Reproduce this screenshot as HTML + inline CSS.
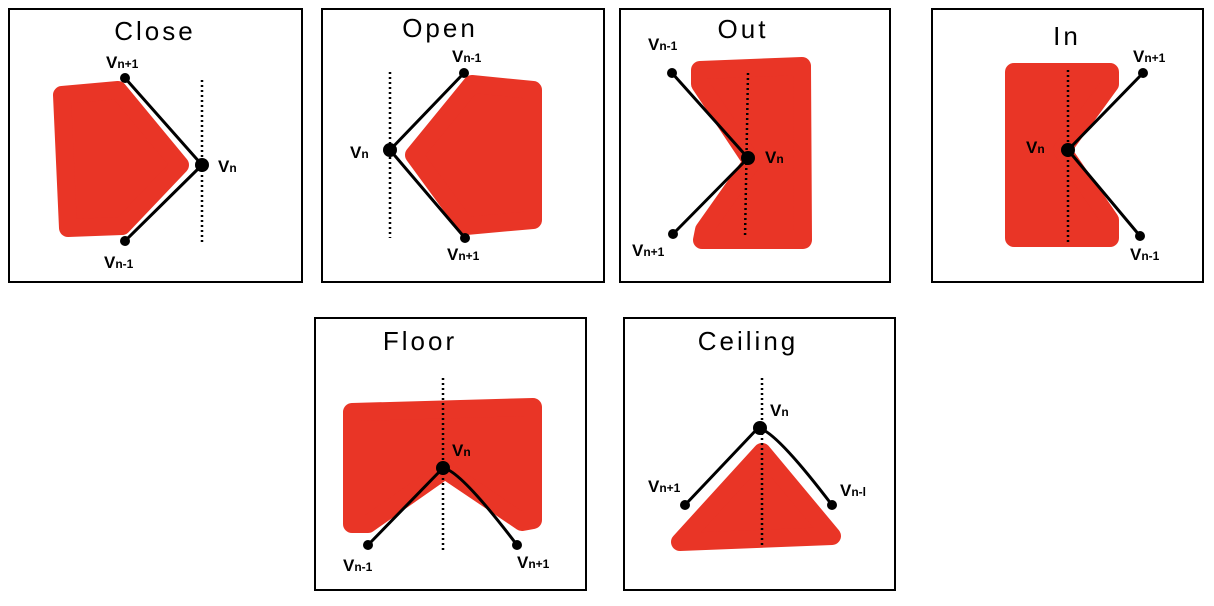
<!DOCTYPE html>
<html><head><style>
body{margin:0;background:#fff;}
svg text{font-family:"Liberation Sans",sans-serif;fill:#000;}
</style></head><body>
<svg width="1214" height="601" viewBox="0 0 1214 601" xmlns="http://www.w3.org/2000/svg">
<g fill="none" stroke="#000" stroke-width="2">
<rect x="9" y="9" width="293" height="273"/>
<rect x="322" y="9" width="282" height="273"/>
<rect x="620" y="9" width="270" height="273"/>
<rect x="932" y="9" width="271" height="273"/>
<rect x="315" y="318" width="271" height="272"/>
<rect x="624" y="318" width="271" height="272"/>
</g>
<g fill="#e93526" stroke="#e93526" stroke-width="18" stroke-linejoin="round">
<polygon points="62,95 118,90 180,165 122,226 68,228"/>
<polygon points="414,155 472,84 533,90 533,220 466,226"/>
<polygon points="700,70 802,66 803,240 702,240 704,230 752,162 700,84"/>
<polygon points="1014,72 1110,72 1110,84 1062,150 1110,220 1110,238 1014,238"/>
<polygon points="352,412 533,407 533,520 522,522 445,470 368,524 352,524"/>
<polygon points="762,452 832,536 680,542"/>
</g>
<g fill="none" stroke="#000" stroke-width="2.5" stroke-dasharray="2,3">
<line x1="202" y1="80" x2="202" y2="242"/>
<line x1="390" y1="72" x2="390" y2="238"/>
<line x1="748" y1="73" x2="745" y2="238"/>
<line x1="1068" y1="70" x2="1068" y2="242"/>
<line x1="443" y1="378" x2="443" y2="552"/>
<line x1="762" y1="378" x2="762" y2="545"/>
</g>
<g fill="none" stroke="#000" stroke-width="3" stroke-linejoin="round">
<polyline points="125,78 202,165 125,241"/>
<polyline points="464,73 390,150 465,238"/>
<polyline points="672,73 748,158 673,234"/>
<polyline points="1143,73 1068,150 1140,236"/>
<path d="M368,545 L443,468 Q460,470 517,545"/>
<path d="M685,505 L758,428 Q775,430 832,505"/>
</g>
<g fill="#000">
<circle cx="125" cy="78" r="5"/><circle cx="202" cy="165" r="7"/><circle cx="125" cy="241" r="5"/>
<circle cx="464" cy="73" r="5"/><circle cx="390" cy="150" r="7"/><circle cx="465" cy="238" r="5"/>
<circle cx="672" cy="73" r="5"/><circle cx="748" cy="158" r="7"/><circle cx="673" cy="234" r="5"/>
<circle cx="1143" cy="73" r="5"/><circle cx="1068" cy="150" r="7"/><circle cx="1140" cy="236" r="5"/>
<circle cx="368" cy="545" r="5"/><circle cx="443" cy="468" r="7"/><circle cx="517" cy="545" r="5"/>
<circle cx="685" cy="505" r="5"/><circle cx="760" cy="428" r="7"/><circle cx="832" cy="505" r="5"/>
</g>
<g font-size="26" text-anchor="middle" letter-spacing="3">
<text x="155" y="40">Close</text>
<text x="440" y="37">Open</text>
<text x="743" y="38">Out</text>
<text x="1067" y="45">In</text>
<text x="420" y="350">Floor</text>
<text x="748" y="350">Ceiling</text>
</g>
<g font-size="17" font-weight="bold">
<text x="106" y="68">V<tspan font-size="12">n+1</tspan></text>
<text x="218" y="172">V<tspan font-size="12">n</tspan></text>
<text x="104" y="268">V<tspan font-size="12">n-1</tspan></text>
<text x="452" y="62">V<tspan font-size="12">n-1</tspan></text>
<text x="350" y="158">V<tspan font-size="12">n</tspan></text>
<text x="447" y="260">V<tspan font-size="12">n+1</tspan></text>
<text x="648" y="50">V<tspan font-size="12">n-1</tspan></text>
<text x="765" y="163">V<tspan font-size="12">n</tspan></text>
<text x="632" y="256">V<tspan font-size="12">n+1</tspan></text>
<text x="1133" y="62">V<tspan font-size="12">n+1</tspan></text>
<text x="1026" y="153">V<tspan font-size="12">n</tspan></text>
<text x="1130" y="260">V<tspan font-size="12">n-1</tspan></text>
<text x="452" y="456">V<tspan font-size="12">n</tspan></text>
<text x="343" y="571">V<tspan font-size="12">n-1</tspan></text>
<text x="517" y="568">V<tspan font-size="12">n+1</tspan></text>
<text x="770" y="416">V<tspan font-size="12">n</tspan></text>
<text x="648" y="492">V<tspan font-size="12">n+1</tspan></text>
<text x="840" y="496">V<tspan font-size="12">n-l</tspan></text>
</g>
</svg>
</body></html>
